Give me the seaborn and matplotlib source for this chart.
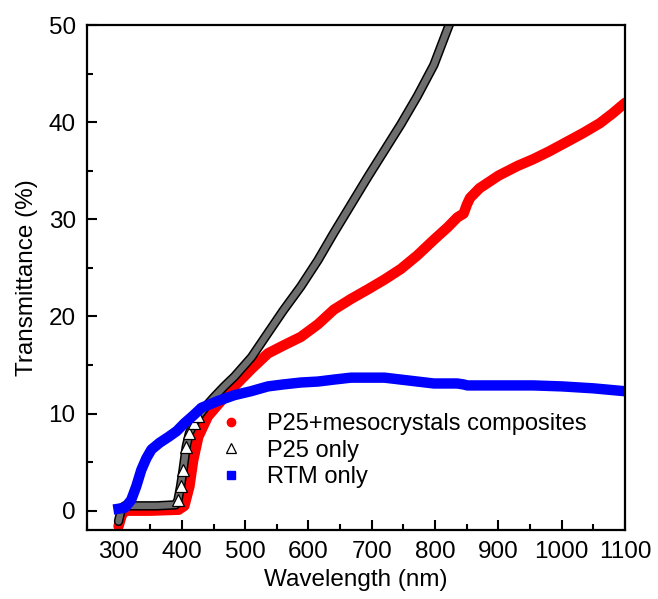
import matplotlib
matplotlib.use("Agg")
import matplotlib.pyplot as plt
import seaborn as sns
import pandas as pd
from matplotlib.lines import Line2D
from matplotlib.ticker import MultipleLocator

# ---- data ----
red_wl = [300, 305, 310, 350, 395, 404, 412, 418, 426, 441, 462, 483, 510, 536, 560,
          588, 615, 640, 667, 694, 720, 746, 772, 798, 820, 835, 845, 850, 855, 870,
          900, 930, 955, 980, 1000, 1034, 1060, 1080, 1100]
red_T = [-1.6, -0.5, 0.0, 0.0, 0.1, 0.5, 2.5, 5.2, 7.6, 9.7, 11.3, 12.8, 14.6, 16.2, 17.0,
         17.9, 19.2, 20.7, 21.8, 22.8, 23.8, 24.9, 26.3, 27.9, 29.2, 30.2, 30.6, 31.5, 32.2, 33.2,
         34.5, 35.5, 36.2, 37.0, 37.7, 38.9, 39.9, 40.9, 42.0]

black_wl = [300, 305, 310, 320, 360, 390, 394, 398, 402, 407, 412, 419, 426, 440, 451,
            467, 483, 510, 536, 560, 588, 615, 640, 667, 694, 720, 746, 772, 798, 822, 840]
black_T = [-1.1, 0.3, 0.5, 0.5, 0.5, 0.6, 1.1, 2.5, 4.2, 6.6, 8.0, 9.0, 9.7, 10.9, 11.7,
           12.8, 13.8, 15.8, 18.3, 20.6, 23.1, 25.8, 28.6, 31.5, 34.4, 37.1, 39.8, 42.7, 45.9, 50.0, 52.5]

blue_wl = [300, 310, 320, 328, 336, 344, 352, 365, 379, 392, 404, 418, 431, 457, 483,
           509, 536, 560, 588, 615, 640, 667, 694, 720, 746, 772, 798, 835, 845, 851,
           880, 920, 955, 1000, 1050, 1100]
blue_T = [0.2, 0.3, 1.1, 2.5, 4.2, 5.4, 6.3, 7.0, 7.6, 8.2, 9.0, 9.8, 10.6, 11.3, 11.9,
          12.3, 12.8, 13.0, 13.2, 13.3, 13.5, 13.7, 13.7, 13.7, 13.5, 13.3, 13.1, 13.1, 13.0, 12.9,
          12.9, 12.9, 12.9, 12.8, 12.6, 12.3]

labels = ["P25+mesocrystals composites", "P25 only", "RTM only"]
x_ticks = [300, 400, 500, 600, 700, 800, 900, 1000, 1100]
y_ticks = [0, 10, 20, 30, 40, 50]

sns.set_theme(style="white")
plt.rcParams['font.family'] = ['Liberation Sans', 'DejaVu Sans']
plt.rcParams.update({"text.color": "black", "axes.labelcolor": "black",
                     "xtick.color": "black", "ytick.color": "black"})

red_df = pd.DataFrame({"wl": red_wl, "T": red_T})
black_df = pd.DataFrame({"wl": black_wl, "T": black_T})
blue_df = pd.DataFrame({"wl": blue_wl, "T": blue_T})

fig = plt.figure(figsize=(6.58, 5.99), dpi=100)
ax = fig.add_axes([0.132, 0.115, 0.818, 0.843])

sns.lineplot(data=red_df, x="wl", y="T", ax=ax, color="#ff0000", linewidth=7.5,
             estimator=None, sort=False, solid_capstyle="round", solid_joinstyle="round")
sns.lineplot(data=black_df, x="wl", y="T", ax=ax, color="black", linewidth=6.8,
             estimator=None, sort=False, solid_capstyle="round", solid_joinstyle="round")
sns.lineplot(data=black_df, x="wl", y="T", ax=ax, color="#6e6e6e", linewidth=4.6,
             estimator=None, sort=False, solid_capstyle="round", solid_joinstyle="round")
steep = black_df[(black_df.wl >= 394) & (black_df.wl <= 426)]
ax.plot(steep.wl, steep["T"], linestyle="None", marker="^", markersize=8,
        markerfacecolor="white", markeredgecolor="black", markeredgewidth=0.9)
sns.lineplot(data=blue_df, x="wl", y="T", ax=ax, color="#0000ff", linewidth=7.5,
             estimator=None, sort=False, solid_capstyle="projecting", solid_joinstyle="round")

ax.set_xlim(250, 1100)
ax.set_ylim(-2, 50)
ax.set_xticks(x_ticks)
ax.set_yticks(y_ticks)
ax.xaxis.set_minor_locator(MultipleLocator(50))
ax.yaxis.set_minor_locator(MultipleLocator(5))
ax.tick_params(which="major", direction="in", length=7, width=1.5, labelsize=17.5, pad=8,
               bottom=True, left=True, top=False, right=False, colors="black")
ax.tick_params(which="minor", direction="in", length=4, width=1.5,
               bottom=True, left=True, top=False, right=False)
for s in ax.spines.values():
    s.set_linewidth(1.6)
    s.set_color("black")
ax.set_xlabel("Wavelength (nm)", fontsize=17.5, labelpad=4)
ax.set_ylabel("Transmittance (%)", fontsize=17.5, labelpad=8)

handles = [
    Line2D([], [], linestyle="None", marker="o", markersize=6, color="#ff0000"),
    Line2D([], [], linestyle="None", marker="^", markersize=7, markerfacecolor="white",
           markeredgecolor="black", markeredgewidth=0.9),
    Line2D([], [], linestyle="None", marker="s", markersize=6, color="#0000ff"),
]
ax.legend(handles, labels, loc="upper left", bbox_to_anchor=(0.207, 0.265), frameon=False,
          fontsize=17, handlelength=1.4, handletextpad=0.8, labelspacing=0.2, borderpad=0.2)

fig.savefig("out.png", dpi=100)
